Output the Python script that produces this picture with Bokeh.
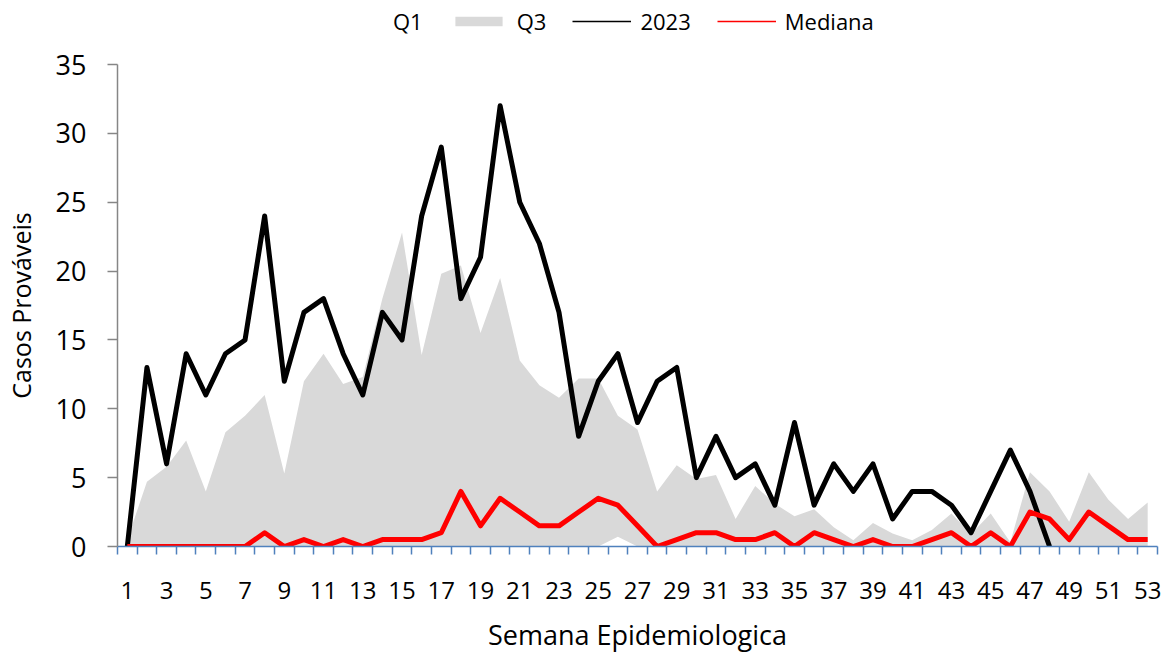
from bokeh.plotting import figure
from bokeh.models import Range1d, FixedTicker, Legend, LegendItem, ColumnDataSource
from bokeh.layouts import column
from bokeh.embed import file_html
from bokeh.resources import INLINE

# ---- data ----
weeks = list(range(1, 54))
q1 = [0, 0, 0, 0, 0, 0, 0, 0, 0, 0, 0, 0, 0, 0, 0, 0, 0, 0, 0, 0,
      0, 0, 0, 0, 0, 0.7, 0, 0, 0, 0, 0, 0, 0, 0, 0, 0, 0, 0, 0, 0,
      0, 0, 0, 0, 0, 0, 0, 0, 0, 0, 0, 0, 0]
q3 = [0.5, 4.7, 5.8, 7.7, 4.0, 8.3, 9.5, 11.0, 5.3, 12.0,
      14.0, 11.8, 12.3, 18.0, 22.8, 13.9, 19.8, 20.4, 15.5, 19.5,
      13.5, 11.7, 10.8, 12.2, 12.2, 9.5, 8.5, 4.0, 5.9, 4.9,
      5.2, 2.0, 4.4, 3.1, 2.2, 2.7, 1.4, 0.45, 1.7, 0.94,
      0.45, 1.2, 2.4, 0.9, 2.4, 0.3, 5.4, 4.0, 1.8, 5.4,
      3.4, 2.0, 3.2]
mediana = [0, 0, 0, 0, 0, 0, 0, 1, 0, 0.5,
           0, 0.5, 0, 0.5, 0.5, 0.5, 1, 4, 1.5, 3.5,
           2.5, 1.5, 1.5, 2.5, 3.5, 3, 1.5, 0, 0.5, 1,
           1, 0.5, 0.5, 1, 0, 1, 0.5, 0, 0.5, 0,
           0, 0.5, 1, 0, 1, 0, 2.5, 2, 0.5, 2.5,
           1.5, 0.5, 0.5]
weeks_2023 = list(range(1, 49))
casos_2023 = [0, 13, 6, 14, 11, 14, 15, 24, 12, 17,
              18, 14, 11, 17, 15, 24, 29, 18, 21, 32,
              25, 22, 17, 8, 12, 14, 9, 12, 13, 5,
              8, 5, 6, 3, 9, 3, 6, 4, 6, 2,
              4, 4, 3, 1, 4, 7, 4, 0]
x_tick_weeks = list(range(1, 54, 2))
y_ticks = [0, 5, 10, 15, 20, 25, 30, 35]
series_names = ["Q1", "Q3", "2023", "Mediana"]

FONT = "Open Sans"
GRAY = "#D9D9D9"
RED = "#FF0000"

# ---------------- legend strip (separate small figure on top) ----------------
LEG_H = 40
leg = figure(width=1160, height=LEG_H, x_range=Range1d(0, 1), y_range=Range1d(0, 1),
             x_axis_location=None, y_axis_location=None,
             min_border=0, output_backend="svg", toolbar_location=None)
leg.outline_line_color = None
leg.xgrid.visible = False
leg.ygrid.visible = False
# stand-in renderers for the legend swatches (outside the visible ranges)
d_q1 = leg.varea(x=[-5, -4], y1=[-5, -5], y2=[-4, -4], fill_color="white")
d_q3 = leg.varea(x=[-5, -4], y1=[-5, -5], y2=[-4, -4], fill_color=GRAY)
d_23 = leg.line(x=[-5, -4], y=[-5, -5], line_color="black", line_width=1.5)
d_md = leg.line(x=[-5, -4], y=[-5, -5], line_color=RED, line_width=1.5)

legend = Legend(items=[
    LegendItem(label=series_names[0], renderers=[d_q1]),
    LegendItem(label=series_names[1], renderers=[d_q3]),
    LegendItem(label=series_names[2], renderers=[d_23]),
    LegendItem(label=series_names[3], renderers=[d_md]),
], orientation="horizontal", location=(208, 4))
legend.label_text_font = FONT
legend.label_text_font_size = "22px"
legend.label_text_color = "black"
legend.glyph_width = 59
legend.glyph_height = 12
legend.label_standoff = 9
legend.spacing = 26
legend.padding = 0
legend.margin = 0
legend.border_line_alpha = 0
legend.background_fill_alpha = 0
leg.add_layout(legend, "center")

# ---------------- main chart ----------------
p = figure(frame_width=1040, frame_height=482,
           x_range=Range1d(0.5, 53.5), y_range=Range1d(0, 35),
           min_border_left=112, min_border_right=8,
           min_border_top=64 - LEG_H, min_border_bottom=20,
           output_backend="svg", toolbar_location=None)
p.outline_line_color = None
p.xgrid.visible = False
p.ygrid.visible = False
p.background_fill_color = "white"

src = ColumnDataSource(dict(x=weeks, q1=q1, q3=q3, med=mediana, zero=[0] * len(weeks)))
src23 = ColumnDataSource(dict(x=weeks_2023, y=casos_2023))

p.varea(x="x", y1="zero", y2="q1", source=src, fill_color="white")
p.varea(x="x", y1="q1", y2="q3", source=src, fill_color=GRAY)
p.line(x="x", y="y", source=src23, line_color="black", line_width=5, line_join="round")
p.line(x="x", y="med", source=src, line_color=RED, line_width=5, line_join="round")

# x axis
xa = p.xaxis[0]
xa.ticker = FixedTicker(ticks=x_tick_weeks, minor_ticks=[w - 0.5 for w in range(1, 55)])
xa.axis_line_color = "#4F81BD"
xa.axis_line_width = 1.5
xa.major_tick_line_color = None
xa.major_tick_out = 8
xa.major_tick_in = 0
xa.minor_tick_line_color = "#4F81BD"
xa.minor_tick_line_width = 1.5
xa.minor_tick_out = 8
xa.minor_tick_in = 0
xa.major_label_standoff = 27
xa.major_label_text_font = FONT
xa.major_label_text_font_size = "24px"
xa.major_label_text_color = "black"
xa.axis_label = "Semana Epidemiologica"
xa.axis_label_text_font = FONT
xa.axis_label_text_font_size = "27px"
xa.axis_label_text_font_style = "normal"
xa.axis_label_text_color = "black"
xa.axis_label_standoff = 14

# y axis
ya = p.yaxis[0]
ya.ticker = FixedTicker(ticks=y_ticks)
ya.axis_line_color = "#868686"
ya.axis_line_width = 1.5
ya.major_tick_line_color = "#868686"
ya.major_tick_line_width = 1.5
ya.major_tick_out = 10
ya.major_tick_in = 0
ya.minor_tick_line_color = None
ya.major_label_standoff = 21
ya.major_label_text_font = FONT
ya.major_label_text_font_size = "27px"
ya.major_label_text_color = "black"
ya.axis_label = "Casos Prováveis"
ya.axis_label_text_font = FONT
ya.axis_label_text_font_size = "25px"
ya.axis_label_text_font_style = "normal"
ya.axis_label_text_color = "black"
ya.axis_label_standoff = 15

layout = column(leg, p, spacing=0)
open("out.html", "w").write(file_html(layout, INLINE))
